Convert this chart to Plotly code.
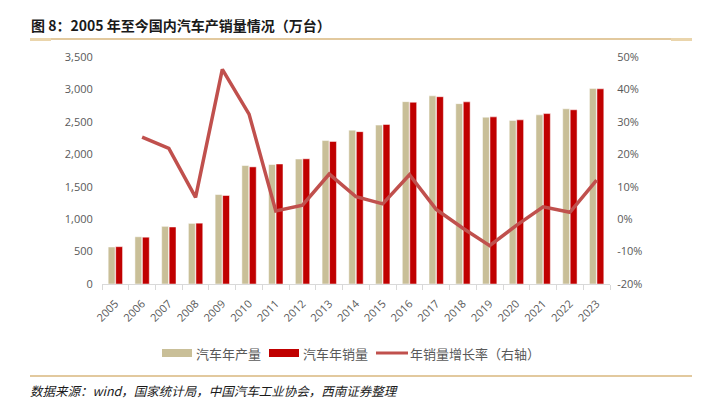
import plotly.graph_objects as go

years = [str(y) for y in range(2005, 2024)]
production = [570.5, 728.0, 888.9, 934.5, 1379.1, 1826.5, 1841.9, 1927.2, 2211.7, 2372.3,
              2450.3, 2811.9, 2901.5, 2780.9, 2572.1, 2522.5, 2608.2, 2702.1, 3016.1]
sales = [575.8, 721.6, 879.2, 938.1, 1364.5, 1806.2, 1850.5, 1930.6, 2198.4, 2349.2,
         2459.8, 2802.8, 2887.9, 2808.1, 2576.9, 2531.1, 2627.5, 2686.4, 3009.4]
growth_years = years[1:]
growth = [25.3, 21.8, 6.7, 46.2, 32.4, 2.5, 4.3, 13.9, 6.9, 4.7,
          13.7, 3.0, -2.8, -8.2, -1.9, 3.8, 2.1, 12.0]

left_ticks = [0, 500, 1000, 1500, 2000, 2500, 3000, 3500]
right_ticks = [-20, -10, 0, 10, 20, 30, 40, 50]
right_labels = [f"{v}%" for v in right_ticks]

C_PROD = "#C9BF98"
C_SALES = "#C00000"
C_LINE = "#C0504D"
GOLD = "#D9B77E"
TICKC = "#595959"
FONT = "Noto Sans CJK SC"

fig = go.Figure()
fig.add_trace(go.Bar(x=years, y=production, name="汽车年产量", marker_color=C_PROD,
                     marker_line_color="white", marker_line_width=0.5))
fig.add_trace(go.Bar(x=years, y=sales, name="汽车年销量", marker_color=C_SALES,
                     marker_line_color="white", marker_line_width=0.5))
fig.add_trace(go.Scatter(x=growth_years, y=growth, name="年销量增长率（右轴）", yaxis="y2",
                         mode="lines", line=dict(color=C_LINE, width=3.5)))

W, H = 721, 404
L, R, T, B = 102, 111, 57, 120
PW, PH = W - L - R, H - T - B

fig.update_layout(
    width=W, height=H,
    margin=dict(l=L, r=R, t=T, b=B),
    paper_bgcolor="white", plot_bgcolor="white",
    showlegend=False,
    barmode="group", bargap=0.44, bargroupgap=0.08,
    font=dict(family=FONT, color=TICKC, size=11),
    xaxis=dict(type="category", showline=True, linecolor="#D9D9D9", linewidth=1,
               ticks="outside", tickson="boundaries", ticklen=5, tickcolor="#D9D9D9",
               tickangle=-45, ticklabelstandoff=8,
               tickfont=dict(family="Open Sans", size=11, color=TICKC),
               showgrid=False),
    yaxis=dict(range=[0, 3500], tickvals=left_ticks, tickformat=",",
               showgrid=False, zeroline=False, showline=False, ticklen=6,
               ticks="outside", tickcolor="white",
               tickfont=dict(family="Open Sans", size=11, color=TICKC)),
    yaxis2=dict(range=[-20, 50], tickvals=right_ticks, ticktext=right_labels,
                overlaying="y", side="right", showgrid=False, zeroline=False,
                showline=False, ticks="outside", ticklen=4, tickcolor="white",
                tickfont=dict(family="Open Sans", size=11, color=TICKC)),
)


def line_px(x0, x1, y, color, width):
    return dict(type="line", xref="paper", yref="paper",
                x0=(x0 - L) / PW, x1=(x1 - L) / PW,
                y0=(H - B - y) / PH, y1=(H - B - y) / PH,
                line=dict(color=color, width=width))


def rect_px(x0, x1, y0, y1, color):
    return dict(type="rect", xref="paper", yref="paper",
                x0=(x0 - L) / PW, x1=(x1 - L) / PW,
                y0=(H - B - y0) / PH, y1=(H - B - y1) / PH,
                fillcolor=color, line=dict(width=0))


shapes = [
    line_px(30, 692, 39, GOLD, 1.5),
    line_px(30, 51, 39.5, "#EAD5AC", 3),
    line_px(671, 692, 39.5, "#EAD5AC", 3),
    line_px(30, 692, 376, GOLD, 1.5),
    rect_px(162, 192, 349, 357, C_PROD),
    rect_px(269, 299, 349, 357, C_SALES),
    line_px(376, 408, 353, C_LINE, 3),
]
fig.update_layout(shapes=shapes)


def ann_px(x, y, text, size, color, family=FONT):
    return dict(xref="paper", yref="paper",
                x=(x - L) / PW, y=(H - B - y) / PH,
                text=text, showarrow=False, xanchor="left", yanchor="middle",
                font=dict(size=size, color=color, family=family))


anns = [
    ann_px(29, 25, "<b>图 8：2005 年至今国内汽车产销量情况（万台）</b>", 14, "#1a1a1a"),
    ann_px(194, 353, "汽车年产量", 13, TICKC),
    ann_px(301, 353, "汽车年销量", 13, TICKC),
    ann_px(408, 353, "年销量增长率（右轴）", 13, TICKC),
    ann_px(28, 390, "<i>数据来源：wind，国家统计局，中国汽车工业协会，西南证券整理</i>", 12.5, "#1a1a1a"),
]
fig.update_layout(annotations=anns)

fig.write_html("out.html", config={"displayModeBar": False},
               post_script="document.body.style.margin='0';document.body.style.padding='0';")
